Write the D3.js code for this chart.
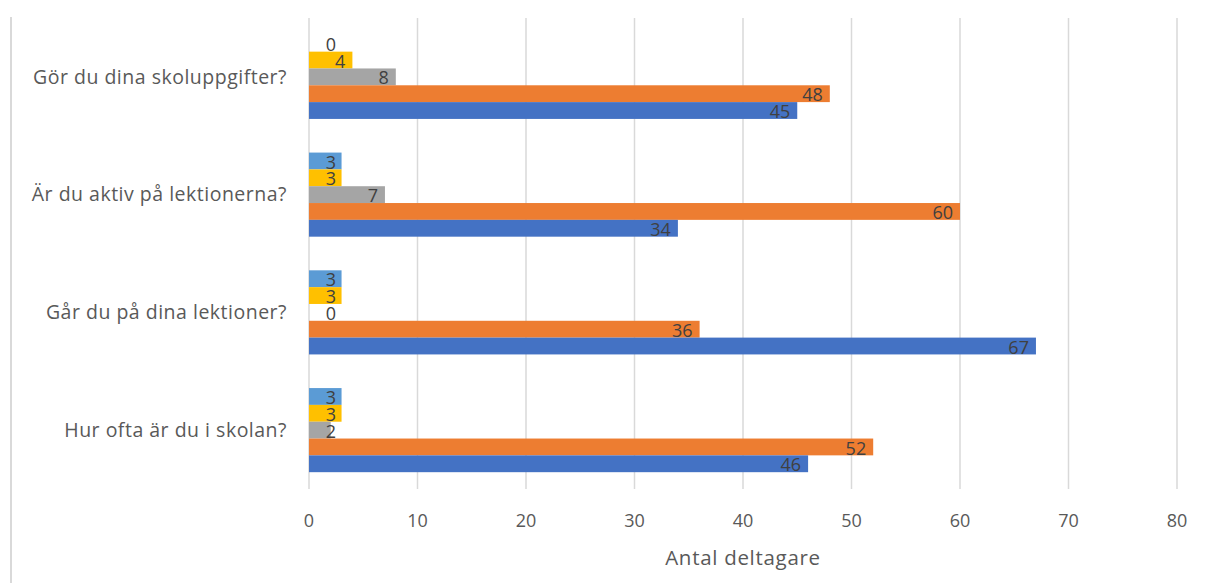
<!DOCTYPE html>
<html>
<head>
<meta charset="utf-8">
<script src="https://cdn.jsdelivr.net/npm/d3@7"></script>
<style>
  body { margin: 0; background: #fff; }
  text { font-family: "Open Sans", Lato, sans-serif; }
</style>
</head>
<body>
<div id="chart"></div>
<script>
// categories, top to bottom as drawn
const categories = [
  "Gör du dina skoluppgifter?",
  "Är du aktiv på lektionerna?",
  "Går du på dina lektioner?",
  "Hur ofta är du i skolan?"
];
// series, listed top to bottom inside each group
const seriesNames = ["Serie 5", "Serie 4", "Serie 3", "Serie 2", "Serie 1"];
const serie5 = [0, 3, 3, 3];     // light blue
const serie4 = [4, 3, 3, 3];     // yellow
const serie3 = [8, 7, 0, 2];     // gray
const serie2 = [48, 60, 36, 52]; // orange
const serie1 = [45, 34, 67, 46]; // blue
const seriesColors = ["#5B9BD5", "#FFC000", "#A5A5A5", "#ED7D31", "#4472C4"];
const xTicks = [0, 10, 20, 30, 40, 50, 60, 70, 80];
const axisTitle = "Antal deltagare";

const seriesValues = [serie5, serie4, serie3, serie2, serie1];

const width = 1205, height = 583;
const margin = { top: 18, right: 28, bottom: 94, left: 309 };
const w = width - margin.left - margin.right;
const h = height - margin.top - margin.bottom;

const svg = d3.select('#chart')
  .append('svg')
  .attr('width', width)
  .attr('height', height);

// frame line on the left
svg.append('line')
  .attr('x1', 11).attr('x2', 11)
  .attr('y1', 17).attr('y2', height)
  .attr('stroke', '#D9D9D9').attr('stroke-width', 2);

const g = svg.append('g')
  .attr('transform', `translate(${margin.left},${margin.top})`);

const x = d3.scaleLinear().domain([0, 80]).range([0, w]);
const y0 = d3.scaleBand().domain(categories).range([0, h]).paddingInner(2 / 7).paddingOuter(1 / 7);
const y1 = d3.scaleBand().domain(seriesNames).range([0, y0.bandwidth()]);

// gridlines
g.selectAll('.grid')
  .data(xTicks)
  .enter()
  .append('line')
  .attr('x1', d => x(d)).attr('x2', d => x(d))
  .attr('y1', 0).attr('y2', h)
  .attr('stroke', '#D9D9D9').attr('stroke-width', 1.5);

// x tick labels
g.selectAll('.tick-label')
  .data(xTicks)
  .enter()
  .append('text')
  .attr('x', d => x(d))
  .attr('y', h + 38)
  .attr('text-anchor', 'middle')
  .attr('font-size', 18)
  .attr('fill', '#595959')
  .text(d => d);

// axis title
g.append('text')
  .attr('x', w / 2)
  .attr('y', h + 76)
  .attr('text-anchor', 'middle')
  .attr('font-size', 20.5)
  .attr('letter-spacing', 0.7)
  .attr('fill', '#595959')
  .text(axisTitle);

// category labels
g.selectAll('.cat')
  .data(categories)
  .enter()
  .append('text')
  .attr('x', -22)
  .attr('y', d => y0(d) + y0.bandwidth() / 2)
  .attr('dy', '0.35em')
  .attr('text-anchor', 'end')
  .attr('font-size', 19.5)
  .attr('letter-spacing', 0.5)
  .attr('fill', '#595959')
  .text(d => d);

const rows = [];
categories.forEach((c, i) => {
  seriesNames.forEach((s, j) => {
    rows.push({ cat: c, series: s, value: seriesValues[j][i], color: seriesColors[j] });
  });
});

const groups = g.selectAll('.bar')
  .data(rows)
  .enter()
  .append('g');

groups.append('rect')
  .attr('x', x(0))
  .attr('y', d => y0(d.cat) + y1(d.series))
  .attr('width', d => x(d.value) - x(0))
  .attr('height', y1.bandwidth())
  .attr('fill', d => d.color);

groups.append('text')
  .attr('x', d => Math.max(x(d.value) - 7, x(0) + 27))
  .attr('y', d => y0(d.cat) + y1(d.series) + y1.bandwidth() / 2)
  .attr('dy', '0.42em')
  .attr('text-anchor', 'end')
  .attr('font-size', 18)
  .attr('fill', '#404040')
  .text(d => d.value);
</script>
</body>
</html>
